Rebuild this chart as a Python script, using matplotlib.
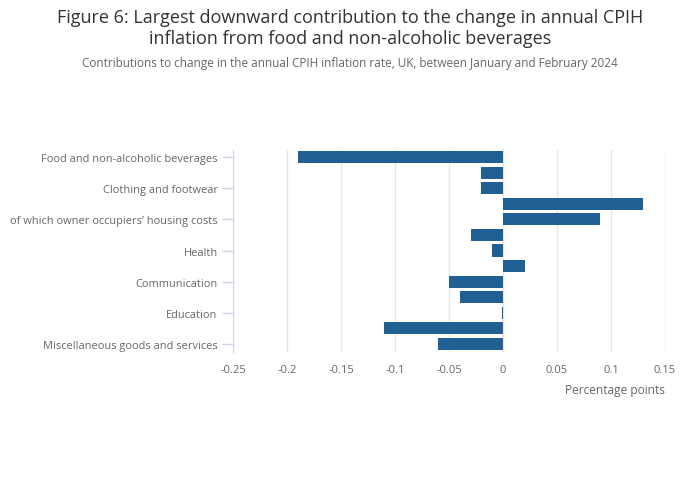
import numpy as np
import matplotlib.pyplot as plt

plt.rcParams['font.family'] = ['Open Sans', 'DejaVu Sans']

categories = [
    "Food and non-alcoholic beverages",
    "Alcoholic beverages and tobacco",
    "Clothing and footwear",
    "Housing, water, electricity, gas and other fuels",
    "of which owner occupiers\u2019 housing costs",
    "Furniture, household equipment and maintenance",
    "Health",
    "Transport",
    "Communication",
    "Recreation and culture",
    "Education",
    "Restaurants and hotels",
    "Miscellaneous goods and services",
]
values = [-0.19, -0.02, -0.02, 0.13, 0.09, -0.03, -0.01, 0.02,
          -0.05, -0.04, -0.001, -0.11, -0.06]
x_ticks = [-0.25, -0.2, -0.15, -0.1, -0.05, 0, 0.05, 0.1, 0.15]
x_tick_labels = ["-0.25", "-0.2", "-0.15", "-0.1", "-0.05", "0", "0.05", "0.1", "0.15"]

fig = plt.figure(figsize=(7.0, 5.02), dpi=100)
ax = fig.add_axes([233 / 700, 1 - 352.5 / 502, (665 - 233) / 700, (352.5 - 150.5) / 502])

y = np.arange(len(categories))
ax.barh(y, values, height=0.78, color="#206095", zorder=3)

ax.set_ylim(len(categories) - 0.5, -0.5)
ax.set_xlim(-0.25, 0.15)

ax.set_yticks(y[::2])
ax.set_yticklabels(categories[::2])
ax.set_xticks(x_ticks)
ax.set_xticklabels(x_tick_labels)

ax.grid(axis="x", color="#e6e6e6", linewidth=1, zorder=0)
for s in ["top", "right", "bottom"]:
    ax.spines[s].set_visible(False)
ax.spines["left"].set_color("#ccd6eb")
ax.spines["left"].set_zorder(4)

ax.tick_params(axis="y", length=8, width=1, color="#ccd6eb", labelcolor="#666666",
               labelsize=7.9, pad=3)
ax.tick_params(axis="x", length=0, labelcolor="#666666", labelsize=8, pad=9)

ax.set_xlabel("Percentage points", color="#666666", fontsize=8.6, loc="right", labelpad=6)

fig.text(0.5, 1 - 18 / 502, "Figure 6: Largest downward contribution to the change in annual CPIH",
         ha="center", va="center", fontsize=13, color="#333333")
fig.text(0.5, 1 - 39 / 502, "inflation from food and non-alcoholic beverages",
         ha="center", va="center", fontsize=13, color="#333333")
fig.text(0.5, 1 - 64 / 502,
         "Contributions to change in the annual CPIH inflation rate, UK, between January and February 2024",
         ha="center", va="center", fontsize=8.5, color="#666666")

fig.savefig("out.png", dpi=100)
